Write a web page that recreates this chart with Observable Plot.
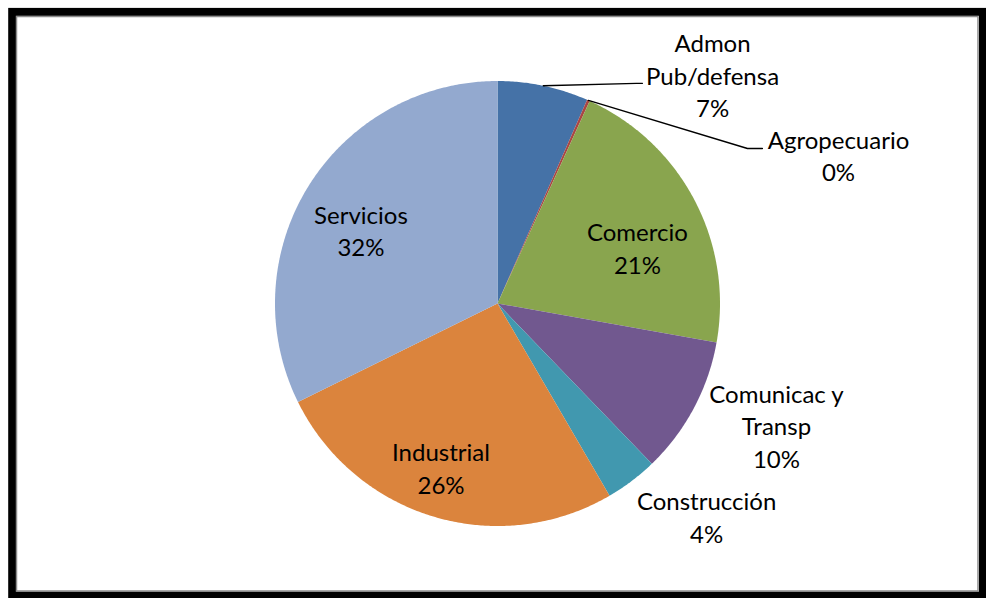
<!DOCTYPE html>
<html><head><meta charset="utf-8">
<script src="https://cdn.jsdelivr.net/npm/d3@7"></script>
<script src="https://cdn.jsdelivr.net/npm/@observablehq/plot@0.6"></script>
<style>html,body{margin:0;padding:0;background:#fff;} #chart svg{display:block;}</style>
</head><body><div id="chart"></div>
<script>
// ---- data ----
const categories = ["Admon Pub/defensa","Agropecuario","Comercio","Comunicac y Transp","Construcción","Industrial","Servicios"];
const labelNames = ["Admon\nPub/defensa","Agropecuario","Comercio","Comunicac y\nTransp","Construcción","Industrial","Servicios"];
const shares = [6.6, 0.2, 21.0, 10.0, 3.8, 26.1, 32.3];
const colors = ["#4572A7","#AA4643","#89A54E","#71588F","#4198AF","#DB843D","#93A9CF"];

// ---- layout (label placement in polar terms: degrees from 12 o'clock, radius in pie radii) ----
const labelAngle  = [43.5, 66.75, 68.9, 113.96, 135.8, 198.8, 297.65];
const labelRadius = [1.404, 1.668, 0.674, 1.372, 1.348, 0.788, 0.693];
// leader lines (for outside labels of thin slices): elbow and end offsets from label centre, in pie radii
const leaderFor = {"Admon Pub/defensa": {elbow: [-0.342, -0.029], end: [-0.315, -0.029]},
                   "Agropecuario": {elbow: [-0.409, 0.038], end: [-0.342, 0.038]}};

const W = 986, H = 598, CX = 497, CY = 303, R = 222.5;
const FONT = "Lato, 'Open Sans', sans-serif";

// ---- geometry ----
const arcs = d3.pie().sort(null).value(d => d)(shares);
const wedgeRows = [];
arcs.forEach((a, i) => {
  const cat = categories[i];
  wedgeRows.push({cat, x: 0, y: 0});
  const n = Math.max(2, Math.ceil((a.endAngle - a.startAngle) / (Math.PI / 360)));
  for (let k = 0; k <= n; k++) {
    const t = a.startAngle + (a.endAngle - a.startAngle) * k / n;
    wedgeRows.push({cat, x: Math.sin(t), y: Math.cos(t)});
  }
  wedgeRows.push({cat, x: 0, y: 0});
});

const labels = categories.map((cat, i) => {
  const t = labelAngle[i] * Math.PI / 180;
  return {cat, x: labelRadius[i] * Math.sin(t), y: labelRadius[i] * Math.cos(t),
          text: labelNames[i] + "\n" + Math.round(shares[i]) + "%"};
});

const leaderRows = [];
categories.forEach((cat, i) => {
  const L = leaderFor[cat];
  if (!L) return;
  const a = arcs[i], mid = (a.startAngle + a.endAngle) / 2;
  const lab = labels[i];
  leaderRows.push({cat, x: Math.sin(mid), y: Math.cos(mid)});
  leaderRows.push({cat, x: lab.x + L.elbow[0], y: lab.y + L.elbow[1]});
  leaderRows.push({cat, x: lab.x + L.end[0], y: lab.y + L.end[1]});
});

const chart = Plot.plot({
  width: W, height: H,
  marginTop: 0, marginRight: 0, marginBottom: 0, marginLeft: 0,
  x: {domain: [-CX / R, (W - CX) / R], axis: null},
  y: {domain: [-(H - CY) / R, CY / R], axis: null},
  color: {domain: categories, range: colors},
  style: {background: "#fff", fontFamily: FONT},
  marks: [
    Plot.line(wedgeRows, {x: "x", y: "y", z: "cat", fill: "cat", stroke: "none", curve: "linear"}),
    Plot.line(leaderRows, {x: "x", y: "y", z: "cat", stroke: "#000", strokeWidth: 1.4, curve: "linear"}),
    Plot.text(labels, {x: "x", y: "y", text: "text", fill: "#000", fontSize: 24, lineHeight: 1.354, dy: -2.5,
                       lineAnchor: "middle", textAnchor: "middle", fontFamily: FONT}),
    Plot.frame({stroke: "#000", strokeWidth: 8, insetLeft: 11.7, insetTop: 11.4, insetRight: 3.5, insetBottom: 3}),
    Plot.frame({stroke: "#8c8c8c", strokeWidth: 1.5, insetLeft: 16, insetTop: 16, insetRight: 8.5, insetBottom: 7.5})
  ]
});
document.getElementById("chart").appendChild(chart);
</script>
</body></html>
